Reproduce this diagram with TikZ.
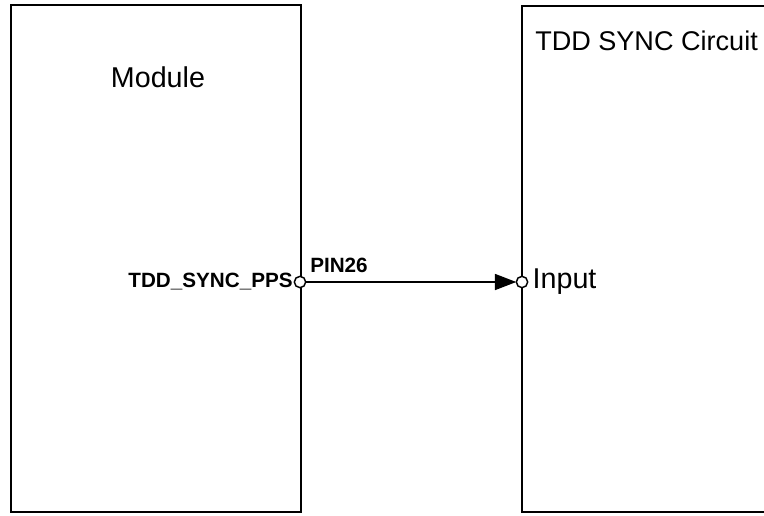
\documentclass[tikz,border=0pt]{standalone}
\usepackage{fontspec}
\setmainfont{Liberation Sans}
\usepackage{tikz}
\usetikzlibrary{arrows.meta,positioning}

\begin{document}
\begin{tikzpicture}[
  x=0.75pt, y=-0.75pt,
  every node/.style={font=\fontsize{21.5}{25}\selectfont, inner sep=0pt},
  block/.style={rectangle, draw, line width=1.4pt},
  pin/.style={circle, draw, fill=white, line width=1.1pt, minimum size=8.5pt},
  pinlabel/.style={font=\fontsize{15.5}{18}\selectfont\bfseries},
  arrow/.style={-{Triangle[length=16pt, width=12pt]}, line width=1.2pt, shorten >=-0.5pt}
]

\clip (0,0) rectangle (764,515);

% MODULE
\node[block, minimum width=217.5pt, minimum height=380.25pt] (module) at (156,258.5) {};
\node (modtitle) at (158,77) {Module};

% TDD SYNC CIRCUIT
\node[block, minimum width=195pt, minimum height=379.5pt] (circuit) at (652,259) {};
\node[anchor=west, font=\fontsize{20.3}{24}\selectfont] (cirtitle) at (535,41) {TDD SYNC Circuit};

% PINS
\node[pin] (pps) at (300,282) {};
\node[pin] (inp) at (522,282) {};

\node[pinlabel, anchor=east, left=0.5pt of pps] (ppsname) {TDD\_SYNC\_PPS};
\node[pinlabel, anchor=south west] (pinnum) at (310,273) {PIN26};
\node[right=3pt of inp] (inpname) {Input};

\draw[arrow] (pps) -- (inp);

\end{tikzpicture}
\end{document}
